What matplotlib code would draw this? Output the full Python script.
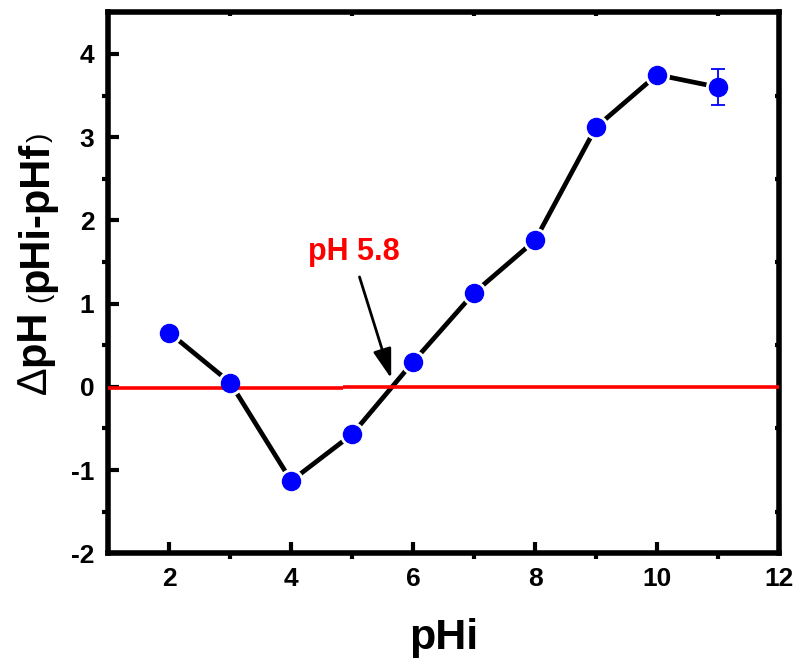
import matplotlib
matplotlib.use("Agg")
import matplotlib.pyplot as plt
from matplotlib.ticker import MultipleLocator, FixedLocator, NullLocator, NullFormatter

plt.rcParams['font.family'] = ['Liberation Sans', 'DejaVu Sans']
plt.rcParams['axes.unicode_minus'] = False

# Measured data
ph_initial = [2, 3, 4, 5, 6, 7, 8, 9, 10, 11]
delta_ph = [0.65, 0.05, -1.13, -0.57, 0.30, 1.13, 1.76, 3.12, 3.75, 3.60]
delta_err = [0, 0, 0, 0, 0, 0, 0, 0, 0, 0.22]

# Zero reference line (two hand-joined pieces)
ref_x_left = [1, 4.85]
ref_y_left = [-0.02, -0.02]
ref_x_right = [4.85, 12]
ref_y_right = [0.0, 0.0]

# Annotation
note_text = "pH 5.8"
note_xy = (5.03, 1.62)
arrow_tail = (5.12, 1.32)
arrow_tip = (5.64, 0.10)

W, H = 799, 660
fig = plt.figure(figsize=(W / 100, H / 100), dpi=100)
ax = fig.add_axes([0.1355, 0.1617, 0.975 - 0.1355, 0.9814 - 0.1617])

ax.set_xlim(1, 12)
ax.set_ylim(-2, 4.5)

# connecting line with small gaps around the markers
ax.plot(ph_initial, delta_ph, color='black', lw=3.4, zorder=2,
        solid_capstyle='butt')
ax.plot(ph_initial, delta_ph, ls='none', marker='o', ms=17,
        mfc='white', mec='white', zorder=2.5)

ax.plot(ref_x_left, ref_y_left, color='#ff0000', lw=2.6, zorder=3,
        solid_capstyle='butt')
ax.plot(ref_x_right, ref_y_right, color='#ff0000', lw=2.6, zorder=3,
        solid_capstyle='butt')

ax.errorbar(ph_initial, delta_ph, yerr=delta_err, fmt='o', ms=13,
            color='#0000ff', mec='#0000ff', ecolor='#0000ff',
            elinewidth=1.3, capsize=5, capthick=1.3, zorder=4)

ax.text(note_xy[0], note_xy[1], note_text, color='#ff0000', fontsize=22,
        fontweight='bold', ha='center', va='center')
ax.annotate('', xy=arrow_tip, xytext=arrow_tail,
            arrowprops=dict(arrowstyle='-|>,head_length=0.9,head_width=0.28',
                            color='black', lw=2, mutation_scale=20,
                            shrinkA=0, shrinkB=0),
            zorder=5)

for s in ax.spines.values():
    s.set_linewidth(4)

ax.xaxis.set_major_locator(MultipleLocator(2))
ax.xaxis.set_minor_locator(FixedLocator([3, 5, 7, 9, 11]))
ax.yaxis.set_major_locator(MultipleLocator(1))
ax.yaxis.set_minor_locator(FixedLocator([-1.5, -0.5, 0.5, 1.5, 2.5, 3.5]))

ax.tick_params(which='major', direction='in', length=8, width=3,
               labelsize=19, pad=10)
ax.tick_params(which='minor', direction='out', length=4, width=3)
ax.tick_params(top=False, right=False, which='both')
for lab in ax.get_xticklabels() + ax.get_yticklabels():
    lab.set_fontweight('bold')

# short inward minor ticks on the top and right edges
top = ax.secondary_xaxis('top')
top.xaxis.set_major_locator(NullLocator())
top.xaxis.set_minor_locator(FixedLocator([3, 5, 7, 9, 11]))
top.xaxis.set_minor_formatter(NullFormatter())
top.tick_params(which='minor', direction='in', length=3, width=3)
top.spines['top'].set_visible(False)

right = ax.secondary_yaxis('right')
right.yaxis.set_major_locator(NullLocator())
right.yaxis.set_minor_locator(FixedLocator([-1.5, -0.5, 0.5, 1.5, 2.5, 3.5]))
right.yaxis.set_minor_formatter(NullFormatter())
right.tick_params(which='minor', direction='in', length=3, width=3)
right.spines['right'].set_visible(False)

ax.set_xlabel('pHi', fontsize=31, fontweight='bold', labelpad=19)

# y label assembled from pieces of different size and weight, bottom to top
ylabel_parts = [
    ('\u2206', 30, 'normal'),
    ('pH ', 30, 'bold'),
    ('(', 20, 'normal'),
    ('pHi-pHf', 30, 'bold'),
    (')', 20, 'normal'),
]
renderer = fig.canvas.get_renderer()
base_x = 47 / W
cur_y = 1 - 394 / H
for txt, size, weight in ylabel_parts:
    t = fig.text(base_x, cur_y, txt, fontsize=size, fontweight=weight,
                 rotation=90, rotation_mode='anchor', ha='left', va='baseline')
    bb = t.get_window_extent(renderer=renderer)
    cur_y += bb.height / H

fig.savefig('out.png', dpi=100, facecolor='white')
